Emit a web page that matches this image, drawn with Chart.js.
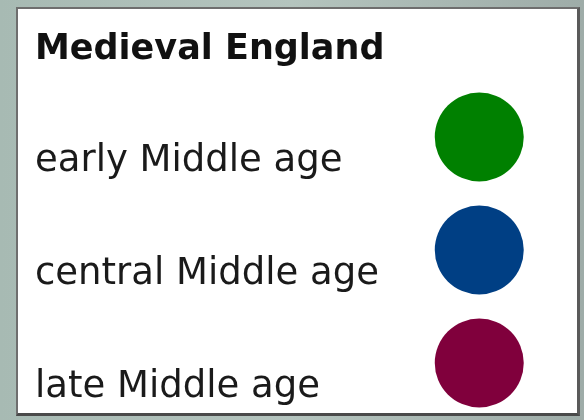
<!DOCTYPE html>
<html>
<head>
<meta charset="utf-8">
<script src="https://cdn.jsdelivr.net/npm/chart.js@4"></script>
<style>
  html, body { margin: 0; padding: 0; }
  body { width: 584px; height: 420px; background: linear-gradient(90deg, #a7bab3 0%, #b4c4be 50%, #9eaca8 100%); position: relative; overflow: hidden; }
  .box { position: absolute; left: 16px; top: 7px; width: 564px; height: 409px; box-sizing: border-box; background: #fff;
         border-left: 2px solid #6e6e6e; border-top: 2px solid #6e6e6e; border-right: 3px solid #5a5a5a; border-bottom: 3px solid #4a4a4a; }
  .wrap { position: relative; width: 559px; height: 404px; }
</style>
</head>
<body>
<div class="box"><div class="wrap"><canvas id="legendChart"></canvas></div></div>
<script>
var title = 'Medieval England';
var periods = ['early Middle age', 'central Middle age', 'late Middle age'];
var markerX = [1, 1, 1];
var colors = ['#008000', '#003f84', '#80003c'];

(function() {
    var ctx = document.getElementById('legendChart').getContext('2d');
    new Chart(ctx, {
        type: 'scatter',
        data: {
            datasets: [{
                data: periods.map(function(p, i) { return { x: markerX[i], y: p }; }),
                pointBackgroundColor: colors,
                pointBorderWidth: 0,
                pointRadius: 44.5,
                pointHoverRadius: 44.5,
                clip: false
            }]
        },
        options: {
            responsive: true,
            maintainAspectRatio: false,
            animation: false,
            layout: { padding: { left: 17, right: 19, top: 0, bottom: 50 } },
            scales: {
                x: { type: 'linear', min: 0, max: 2, display: false },
                y: {
                    type: 'category',
                    labels: periods,
                    offset: false,
                    afterFit: function(scale) { scale.width = 391; },
                    grid: { display: false, drawTicks: false },
                    border: { display: false },
                    ticks: { color: '#1a1a1a', font: { family: 'DejaVu Sans', size: 37 }, crossAlign: 'far', labelOffset: 24, padding: 3 }
                }
            },
            plugins: {
                legend: { display: false },
                tooltip: { enabled: false },
                title: {
                    display: true, text: title, align: 'start', color: '#111',
                    font: { family: 'DejaVu Sans', size: 35, weight: 'bold' },
                    padding: { top: 20, bottom: 66 }
                }
            }
        }
    });
})();
</script>
</body>
</html>
